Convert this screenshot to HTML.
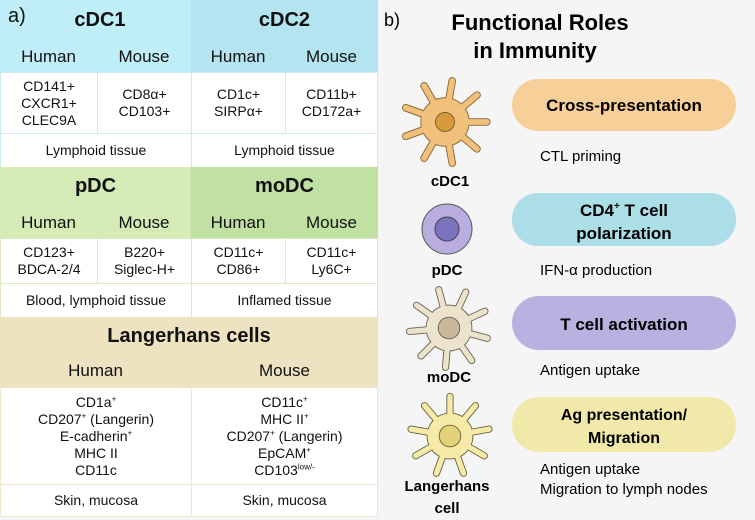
<!DOCTYPE html>
<html><head><meta charset="utf-8"><style>
*{margin:0;padding:0;box-sizing:border-box}
body{width:755px;height:520px;background:#f5f5f5;font-family:"Liberation Sans",Arial,sans-serif;color:#111;position:relative;overflow:hidden}
.c{position:absolute;display:flex;align-items:center;justify-content:center;text-align:center;font-size:14px;line-height:17px}
.w{background:#fff;border:1px solid #cfe9f0}
.g{border-color:#d6ebc4}
.y{border-color:#eee6cc}
.h{font-size:17px}
.t{font-size:20px;font-weight:bold}
sup{font-size:8px;line-height:0}
</style></head><body>
<div class="c" style="left:0;top:0;width:191px;height:72px;background:#c0eef8"></div>
<div class="c" style="left:191px;top:0;width:187px;height:72px;background:#b4e4ef"></div>
<div class="c" style="left:8px;top:8px;font-size:20px">a)</div>
<div class="c t" style="left:40px;top:6px;width:120px;height:28px">cDC1</div>
<div class="c t" style="left:191px;top:6px;width:187px;height:28px">cDC2</div>
<div class="c h" style="left:0;top:42px;width:97px;height:28px">Human</div>
<div class="c h" style="left:97px;top:42px;width:94px;height:28px">Mouse</div>
<div class="c h" style="left:191px;top:42px;width:94px;height:28px">Human</div>
<div class="c h" style="left:285px;top:42px;width:93px;height:28px">Mouse</div>
<div class="c w" style="left:0;top:72px;width:98px;height:62px"><div>CD141+<br>CXCR1+<br>CLEC9A</div></div>
<div class="c w" style="left:97px;top:72px;width:95px;height:62px"><div>CD8α+<br>CD103+</div></div>
<div class="c w" style="left:191px;top:72px;width:95px;height:62px"><div>CD1c+<br>SIRPα+</div></div>
<div class="c w" style="left:285px;top:72px;width:93px;height:62px"><div>CD11b+<br>CD172a+</div></div>
<div class="c w" style="left:0;top:133px;width:192px;height:35px">Lymphoid tissue</div>
<div class="c w" style="left:191px;top:133px;width:187px;height:35px">Lymphoid tissue</div>
<div class="c" style="left:0;top:167px;width:191px;height:71px;background:#d4ebb6"></div>
<div class="c" style="left:191px;top:167px;width:187px;height:71px;background:#c1e1a2"></div>
<div class="c t" style="left:0;top:172px;width:191px;height:28px">pDC</div>
<div class="c t" style="left:191px;top:172px;width:187px;height:28px">moDC</div>
<div class="c h" style="left:0;top:208px;width:97px;height:28px">Human</div>
<div class="c h" style="left:97px;top:208px;width:94px;height:28px">Mouse</div>
<div class="c h" style="left:191px;top:208px;width:94px;height:28px">Human</div>
<div class="c h" style="left:285px;top:208px;width:93px;height:28px">Mouse</div>
<div class="c w g" style="left:0;top:238px;width:98px;height:46px"><div>CD123+<br>BDCA-2/4</div></div>
<div class="c w g" style="left:97px;top:238px;width:95px;height:46px"><div>B220+<br>Siglec-H+</div></div>
<div class="c w g" style="left:191px;top:238px;width:95px;height:46px"><div>CD11c+<br>CD86+</div></div>
<div class="c w g" style="left:285px;top:238px;width:93px;height:46px"><div>CD11c+<br>Ly6C+</div></div>
<div class="c w g" style="left:0;top:283px;width:192px;height:35px">Blood, lymphoid tissue</div>
<div class="c w g" style="left:191px;top:283px;width:187px;height:35px">Inflamed tissue</div>
<div class="c" style="left:0;top:317px;width:378px;height:70px;background:#ede3c1"></div>
<div class="c t" style="left:0;top:322px;width:378px;height:28px">Langerhans cells</div>
<div class="c h" style="left:0;top:356px;width:191px;height:28px">Human</div>
<div class="c h" style="left:191px;top:356px;width:187px;height:28px">Mouse</div>
<div class="c w y" style="left:0;top:387px;width:192px;height:98px"><div>CD1a<sup>+</sup><br>CD207<sup>+</sup> (Langerin)<br>E-cadherin<sup>+</sup><br>MHC II<br>CD11c</div></div>
<div class="c w y" style="left:191px;top:387px;width:187px;height:98px"><div>CD11c<sup>+</sup><br>MHC II<sup>+</sup><br>CD207<sup>+</sup> (Langerin)<br>EpCAM<sup>+</sup><br>CD103<sup>low/-</sup></div></div>
<div class="c w y" style="left:0;top:484px;width:192px;height:33px">Skin, mucosa</div>
<div class="c w y" style="left:191px;top:484px;width:187px;height:33px">Skin, mucosa</div>

<svg style="position:absolute;left:0;top:0" width="755" height="520">
<defs>
<path id="sp" fill="none" stroke-linecap="round" d="M0 0L44 0M0 0L33.7 28.3M0 0L7.6 43.3M0 0L-22 38.1M0 0L-41.3 15M0 0L-41.3 -15M0 0L-22 -38.1M0 0L7.6 -43.3M0 0L33.7 -28.3"/>
</defs>
<g font-family="Liberation Sans, Arial, sans-serif">
<text x="384" y="26" font-size="18">b)</text>
<text x="540" y="30" font-size="22" font-weight="bold" text-anchor="middle">Functional Roles</text>
<text x="535" y="58" font-size="22" font-weight="bold" text-anchor="middle">in Immunity</text>

<g transform="translate(445,122) scale(0.95)">
<use href="#sp" stroke="#8a6a3a" stroke-width="8"/><circle r="26" fill="#8a6a3a"/>
<use href="#sp" stroke="#f1c07a" stroke-width="6"/><circle r="25" fill="#f1c07a"/>
<circle r="10" fill="#d99a3e" stroke="#7a5a2a"/></g>
<text x="450" y="186" font-size="15" font-weight="bold" text-anchor="middle">cDC1</text>
<rect x="512" y="79" width="224" height="52" rx="26" fill="#f7cf98"/>
<text x="624" y="111" font-size="17" font-weight="bold" text-anchor="middle">Cross-presentation</text>
<text x="540" y="161" font-size="15">CTL priming</text>

<circle cx="447" cy="229" r="25" fill="#b9acdf" stroke="#555"/>
<circle cx="447" cy="229" r="12" fill="#7b72c0" stroke="#444"/>
<text x="447" y="275" font-size="15" font-weight="bold" text-anchor="middle">pDC</text>
<rect x="512" y="193" width="224" height="53" rx="26" fill="#abdee6"/>
<text x="624" y="216" font-size="17" font-weight="bold" text-anchor="middle">CD4<tspan font-size="10" dy="-7">+</tspan><tspan dy="7"> T cell</tspan></text>
<text x="624" y="239" font-size="17" font-weight="bold" text-anchor="middle">polarization</text>
<text x="540" y="275" font-size="15">IFN-α production</text>

<g transform="translate(449,328) rotate(15) scale(0.9)">
<use href="#sp" stroke="#6a6050" stroke-width="8"/><circle r="26" fill="#6a6050"/>
<use href="#sp" stroke="#ece3cc" stroke-width="6"/><circle r="25" fill="#ece3cc"/>
<circle r="12" fill="#c9b89a" stroke="#6a6050"/></g>
<text x="449" y="382" font-size="15" font-weight="bold" text-anchor="middle">moDC</text>
<rect x="512" y="296" width="224" height="54" rx="27" fill="#b9b2e0"/>
<text x="624" y="330" font-size="17" font-weight="bold" text-anchor="middle">T cell activation</text>
<text x="540" y="375" font-size="15">Antigen uptake</text>

<g transform="translate(450,436) rotate(-10) scale(0.9)">
<use href="#sp" stroke="#6a6040" stroke-width="8"/><circle r="26" fill="#6a6040"/>
<use href="#sp" stroke="#f5eaa8" stroke-width="6"/><circle r="25" fill="#f5eaa8"/>
<circle r="12" fill="#e2d37a" stroke="#6a6040"/></g>
<text x="447" y="491" font-size="15" font-weight="bold" text-anchor="middle">Langerhans</text>
<text x="447" y="513" font-size="15" font-weight="bold" text-anchor="middle">cell</text>
<rect x="512" y="397" width="224" height="55" rx="27" fill="#f0e9aa"/>
<text x="624" y="420" font-size="16" font-weight="bold" text-anchor="middle">Ag presentation/</text>
<text x="624" y="443" font-size="16" font-weight="bold" text-anchor="middle">Migration</text>
<text x="540" y="474" font-size="15">Antigen uptake</text>
<text x="540" y="494" font-size="15">Migration to lymph nodes</text>
</g>
</svg>
</body></html>
